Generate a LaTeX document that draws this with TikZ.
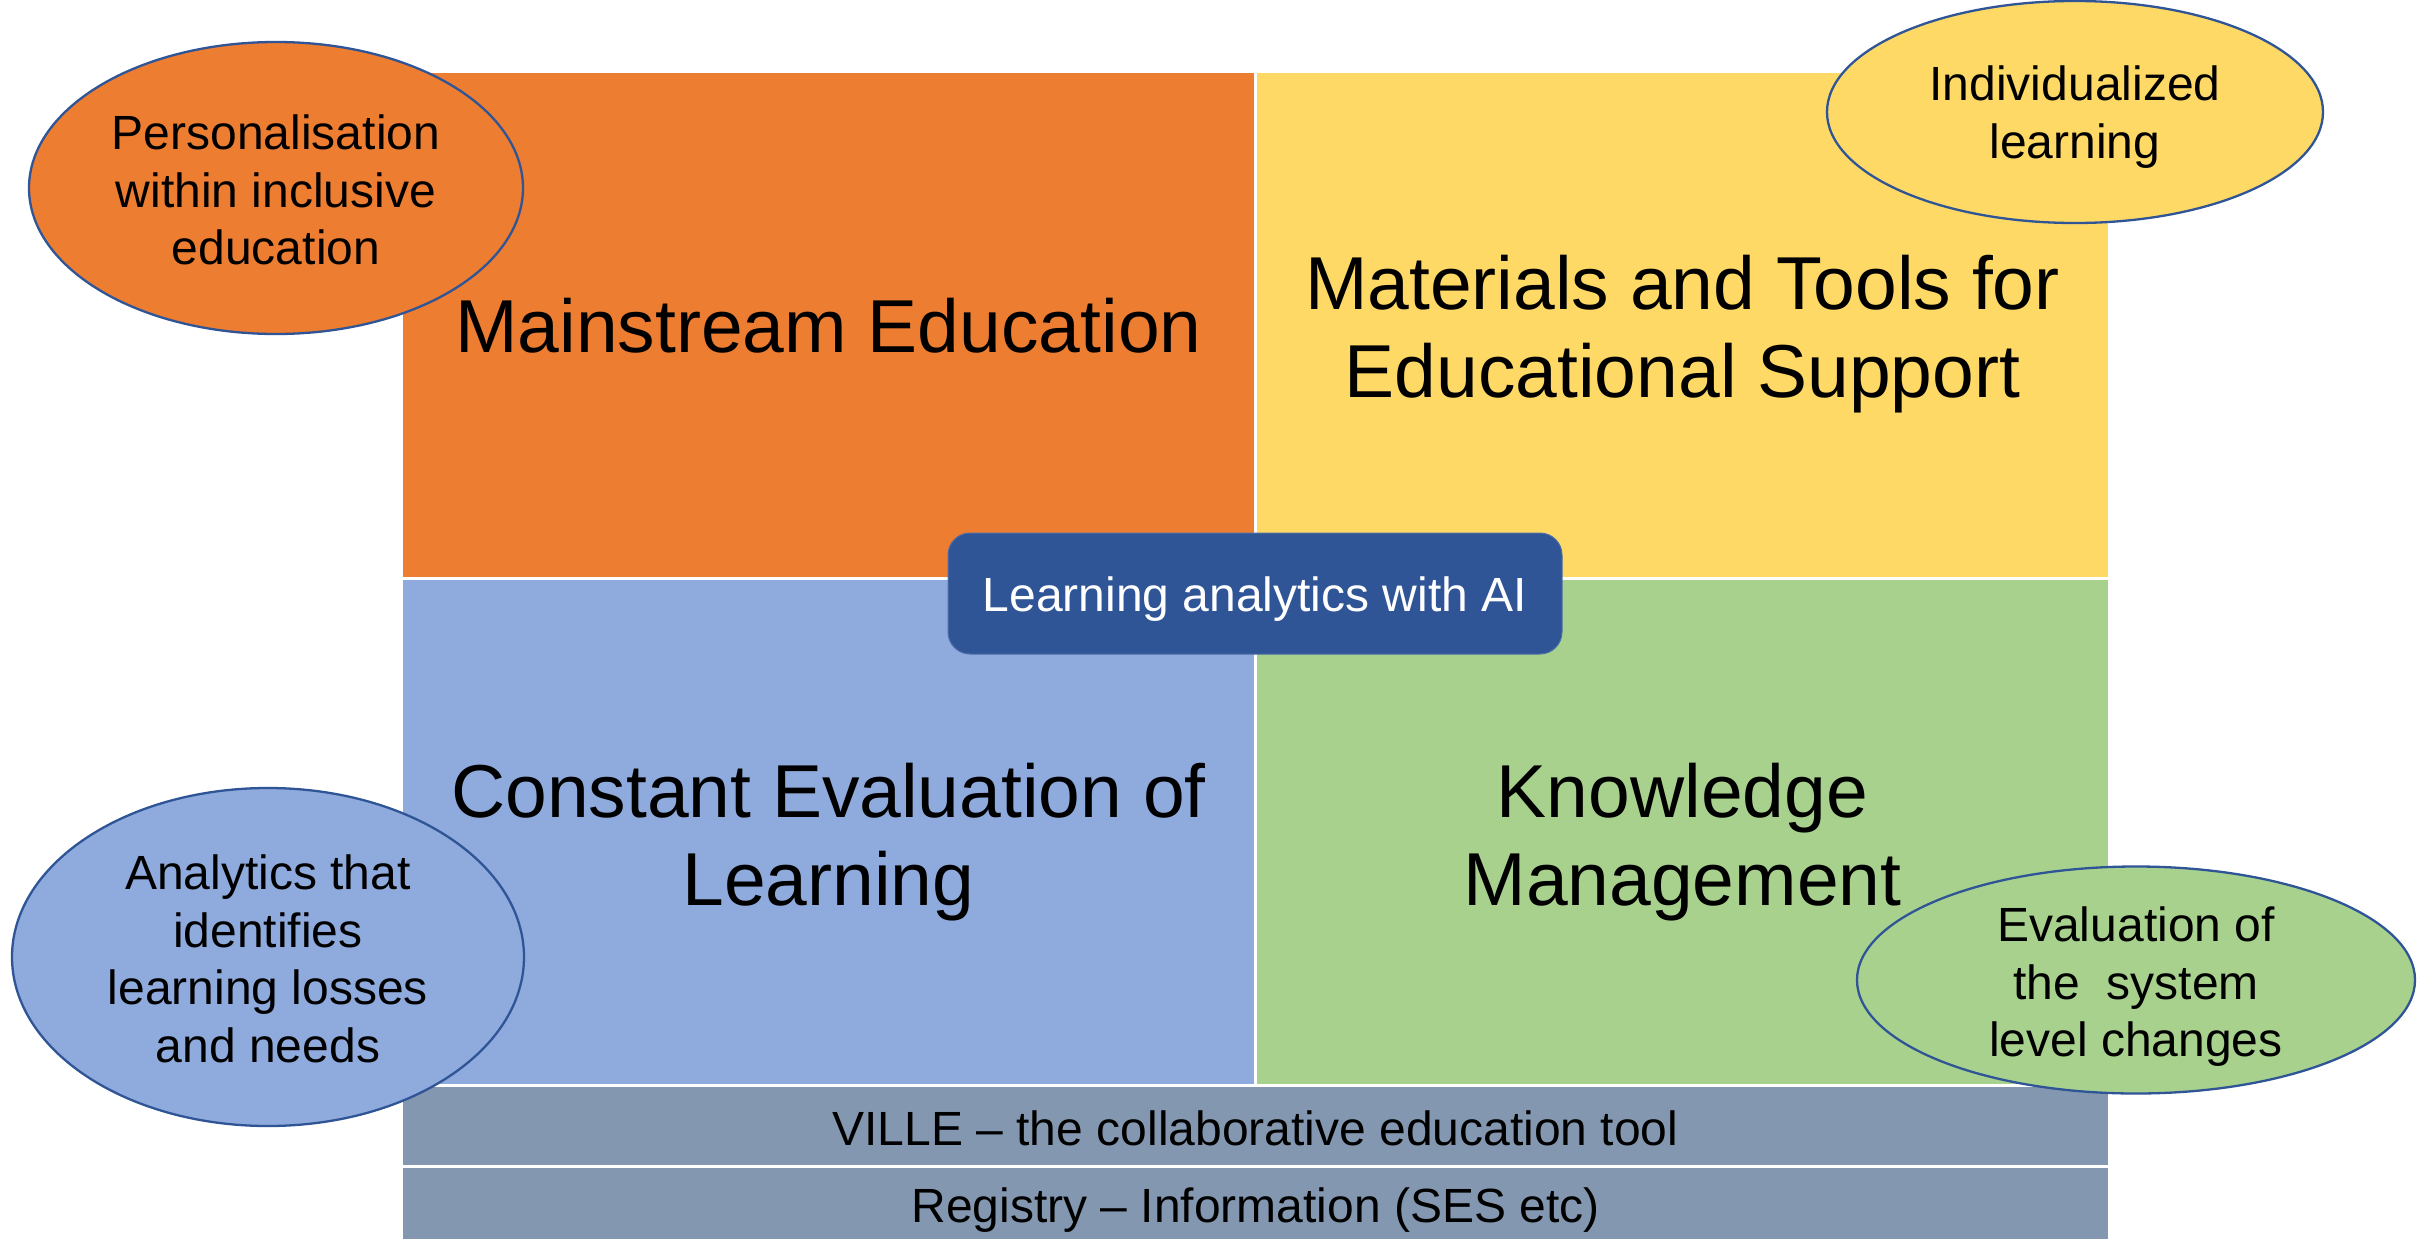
\documentclass[tikz,border=0pt]{standalone}
\usepackage{fontspec}
\setmainfont{Liberation Sans}
\usetikzlibrary{shapes.geometric}
\definecolor{cOrange}{HTML}{ED7D31}
\definecolor{cYellow}{HTML}{FFD966}
\definecolor{cBlue}{HTML}{8FAADC}
\definecolor{cGreen}{HTML}{A9D18E}
\definecolor{cBar}{HTML}{8497B0}
\definecolor{cBox}{HTML}{2F5597}
\definecolor{cEdge}{HTML}{2F5597}
\begin{document}
\begin{tikzpicture}[x=1pt,y=-1pt,
  quad/.style={rectangle, inner sep=0pt, outer sep=0pt, minimum width=851pt, minimum height=504pt},
  bigtext/.style={inner sep=0pt, align=center, font=\fontsize{75}{88.5}\selectfont},
  smalltext/.style={inner sep=0pt, align=center, font=\fontsize{48}{57.5}\selectfont},
  barbox/.style={rectangle, inner sep=0pt, outer sep=0pt, fill=cBar, minimum width=1705pt},
  bubble/.style={ellipse, draw=cEdge, line width=2.3pt, inner sep=0pt},
  ]
\useasboundingbox (0,0) rectangle (2433,1239);
% quadrants
\node[quad, fill=cOrange] (me) at (828.5,325) {};
\node[quad, fill=cYellow] (mt) at (1682.5,325) {};
\node[quad, fill=cBlue] (ce) at (828.5,832) {};
\node[quad, fill=cGreen] (km) at (1682.5,832) {};
\node[bigtext] (meT) at ([yshift=-1pt]me.center) {Mainstream Education};
\node[bigtext] (mtT) at ([yshift=-9pt]mt.center) {Materials and Tools for\\Educational Support};
\node[bigtext] (ceT) at ([yshift=-10pt]ce.center) {Constant Evaluation of\\Learning};
\node[bigtext] (kmT) at ([yshift=-10pt]km.center) {Knowledge\\Management};
% bars
\node[barbox, minimum height=78pt] (ville) at (1255.5,1126) {};
\node[barbox, minimum height=71pt] (reg) at (1255.5,1203.5) {};
\node[smalltext] (villeT) at ([yshift=-2pt]ville.center) {VILLE -- the collaborative education tool};
\node[smalltext] (regT) at ([yshift=-7pt]reg.center) {Registry -- Information (SES etc)};
% centre box
\node[rectangle, rounded corners=22pt, fill=cBox, draw=cBox!85!white, line width=1pt, minimum width=614pt, minimum height=121pt, inner sep=0pt] (la) at (1255,593.5) {};
\node[smalltext, text=white] (laT) at ([yshift=-6pt]la.center) {Learning analytics with AI};
% bubbles
\node[bubble, fill=cOrange, minimum width=494pt, minimum height=292pt] (pers) at (276,188) {};
\node[smalltext] (persT) at ([yshift=-2pt]pers.center) {Personalisation\\within inclusive\\education};
\node[bubble, fill=cYellow, minimum width=496pt, minimum height=222pt] (indiv) at (2075,112) {};
\node[smalltext] (indivT) at ([yshift=-5pt]indiv.center) {Individualized\\learning};
\node[bubble, fill=cBlue, minimum width=512pt, minimum height=338pt] (anal) at (268,957) {};
\node[smalltext] (analT) at ([yshift=-2pt]anal.center) {Analytics that\\identifies\\learning losses\\and needs};
\node[bubble, fill=cGreen, minimum width=558pt, minimum height=227pt] (eval) at (2136,980) {};
\node[smalltext] (evalT) at ([yshift=-7pt]eval.center) {Evaluation of\\the~~system\\level changes};
\end{tikzpicture}
\end{document}
